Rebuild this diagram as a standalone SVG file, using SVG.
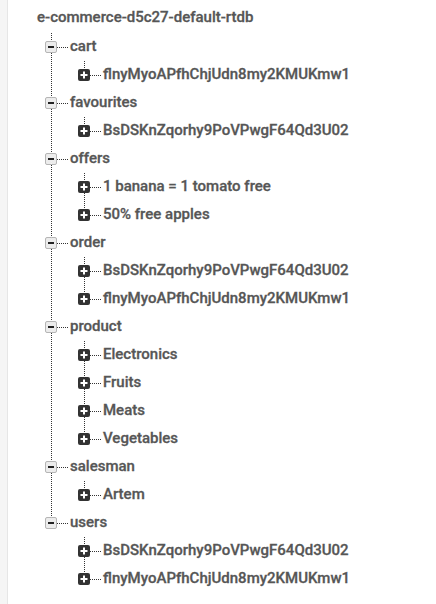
<svg xmlns="http://www.w3.org/2000/svg" width="436" height="604" viewBox="0 0 436 604">
<style>
text{font-family:Roboto,"Liberation Sans",sans-serif;font-size:15px;font-weight:500;fill:#565656;stroke:#565656;stroke-width:0.3}
.d{stroke:#333;stroke-width:1;stroke-dasharray:1 1;fill:none}
.mb{fill:#ececec;stroke:#b5b5b5;stroke-width:1}
.pb{fill:#333}
.w{stroke:#fff;stroke-width:2}
.k{stroke:#222;stroke-width:2}
</style>
<defs>
<g id="minus"><rect class="mb" x="-5.5" y="-5.5" width="11" height="11" rx="1.5"/><line class="k" x1="-3" y1="0" x2="3" y2="0"/><line class="d" x1="6" y1="0.5" x2="17" y2="0.5"/></g>
<g id="plus"><rect class="pb" x="-6" y="-6" width="12" height="12" rx="2"/><line class="w" x1="-3.5" y1="0" x2="3.5" y2="0"/><line class="w" x1="0" y1="-3.5" x2="0" y2="3.5"/><line class="d" x1="6" y1="0.5" x2="17" y2="0.5"/></g>
</defs>
<rect x="0" y="0" width="436" height="604" fill="#fff"/>
<rect x="0" y="0" width="7" height="604" fill="#f5f5f5"/>
<line x1="7.5" y1="0" x2="7.5" y2="604" stroke="#e6e6e6"/>
<g id="connectors">
<line class="d" x1="51.5" y1="33" x2="51.5" y2="518"/>
<line class="d" x1="84.5" y1="61" x2="84.5" y2="70"/>
<line class="d" x1="84.5" y1="117" x2="84.5" y2="126"/>
<line class="d" x1="84.5" y1="173" x2="84.5" y2="210"/>
<line class="d" x1="84.5" y1="257" x2="84.5" y2="294"/>
<line class="d" x1="84.5" y1="341" x2="84.5" y2="434"/>
<line class="d" x1="84.5" y1="481" x2="84.5" y2="490"/>
<line class="d" x1="84.5" y1="537" x2="84.5" y2="574"/>
</g>
<g id="root"><text x="37" y="22">e-commerce-d5c27-default-rtdb</text></g>
<g id="cart"><use href="#minus" x="51" y="47"/><text x="70" y="51">cart</text></g>
<g id="cart-1"><use href="#plus" x="84" y="75"/><text x="103" y="79">flnyMyoAPfhChjUdn8my2KMUKmw1</text></g>
<g id="favourites"><use href="#minus" x="51" y="103"/><text x="70" y="107">favourites</text></g>
<g id="favourites-1"><use href="#plus" x="84" y="131"/><text x="103" y="135">BsDSKnZqorhy9PoVPwgF64Qd3U02</text></g>
<g id="offers"><use href="#minus" x="51" y="159"/><text x="70" y="163">offers</text></g>
<g id="offers-1"><use href="#plus" x="84" y="187"/><text x="103" y="191">1 banana = 1 tomato free</text></g>
<g id="offers-2"><use href="#plus" x="84" y="215"/><text x="103" y="219">50% free apples</text></g>
<g id="order"><use href="#minus" x="51" y="243"/><text x="70" y="247">order</text></g>
<g id="order-1"><use href="#plus" x="84" y="271"/><text x="103" y="275">BsDSKnZqorhy9PoVPwgF64Qd3U02</text></g>
<g id="order-2"><use href="#plus" x="84" y="299"/><text x="103" y="303">flnyMyoAPfhChjUdn8my2KMUKmw1</text></g>
<g id="product"><use href="#minus" x="51" y="327"/><text x="70" y="331">product</text></g>
<g id="product-1"><use href="#plus" x="84" y="355"/><text x="103" y="359">Electronics</text></g>
<g id="product-2"><use href="#plus" x="84" y="383"/><text x="103" y="387">Fruits</text></g>
<g id="product-3"><use href="#plus" x="84" y="411"/><text x="103" y="415">Meats</text></g>
<g id="product-4"><use href="#plus" x="84" y="439"/><text x="103" y="443">Vegetables</text></g>
<g id="salesman"><use href="#minus" x="51" y="467"/><text x="70" y="471">salesman</text></g>
<g id="salesman-1"><use href="#plus" x="84" y="495"/><text x="103" y="499">Artem</text></g>
<g id="users"><use href="#minus" x="51" y="523"/><text x="70" y="527">users</text></g>
<g id="users-1"><use href="#plus" x="84" y="551"/><text x="103" y="555">BsDSKnZqorhy9PoVPwgF64Qd3U02</text></g>
<g id="users-2"><use href="#plus" x="84" y="579"/><text x="103" y="583">flnyMyoAPfhChjUdn8my2KMUKmw1</text></g>
</svg>
